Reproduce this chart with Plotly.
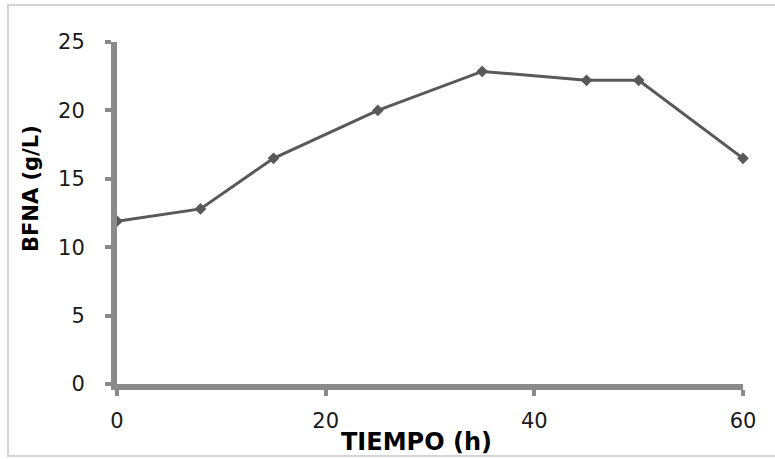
import plotly.graph_objects as go

tiempo_h = [0, 8, 15, 25, 35, 45, 50, 60]
bfna_gL = [11.9, 12.8, 16.5, 20.0, 22.85, 22.2, 22.2, 16.5]
x_ticks = [0, 20, 40, 60]
y_ticks = [0, 5, 10, 15, 20, 25]
x_title = "TIEMPO (h)"
y_title = "BFNA (g/L)"

W, H = 775, 459
L, R, T, B = 117, 32, 42, 75
pw, ph = W - L - R, H - T - B


def px(xp):
    return (xp - L) / pw


def py(yp):
    return (H - B - yp) / ph


fig = go.Figure()
fig.add_trace(go.Scatter(
    x=tiempo_h, y=bfna_gL, mode="lines+markers",
    line=dict(color="#595959", width=3),
    marker=dict(symbol="diamond", size=9, color="#595959"),
    showlegend=False, cliponaxis=False,
))

font_ticks = dict(family="DejaVu Sans, sans-serif", size=21, color="#1a1a1a")

fig.update_layout(
    width=W, height=H,
    margin=dict(l=L, r=R, t=T, b=B, pad=0),
    paper_bgcolor="white", plot_bgcolor="white",
    xaxis=dict(
        range=[0, 60], tickvals=x_ticks, showgrid=False, zeroline=False,
        showline=True, linecolor="#8a8a8a", linewidth=6,
        ticks="outside", ticklen=6, tickwidth=4, tickcolor="#8a8a8a",
        tickfont=font_ticks, ticklabelstandoff=7,
    ),
    yaxis=dict(
        range=[0, 25], tickvals=y_ticks, showgrid=False, zeroline=False,
        showline=True, linecolor="#8a8a8a", linewidth=6,
        ticks="outside", ticklen=6, tickwidth=4, tickcolor="#8a8a8a",
        tickfont=font_ticks, ticklabelstandoff=16,
    ),
    annotations=[
        dict(text="<b>" + x_title + "</b>", xref="paper", yref="paper",
             x=px(416), y=py(442), xanchor="center", yanchor="middle",
             showarrow=False,
             font=dict(family="DejaVu Sans, sans-serif", size=24, color="#000000")),
        dict(text="<b>" + y_title + "</b>", xref="paper", yref="paper",
             x=px(31), y=py(189), xanchor="center", yanchor="middle",
             showarrow=False, textangle=-90,
             font=dict(family="DejaVu Sans, sans-serif", size=21, color="#000000")),
    ],
)

fig.add_shape(
    type="rect", xref="paper", yref="paper",
    x0=px(8), x1=px(W + 5),
    y0=py(456), y1=py(5),
    line=dict(color="#d4d4d4", width=2), fillcolor="rgba(0,0,0,0)", layer="below",
)

fig.write_html(
    "out.html",
    config={"displayModeBar": False},
    post_script="document.body.style.margin='0';document.body.style.overflow='hidden';",
)
